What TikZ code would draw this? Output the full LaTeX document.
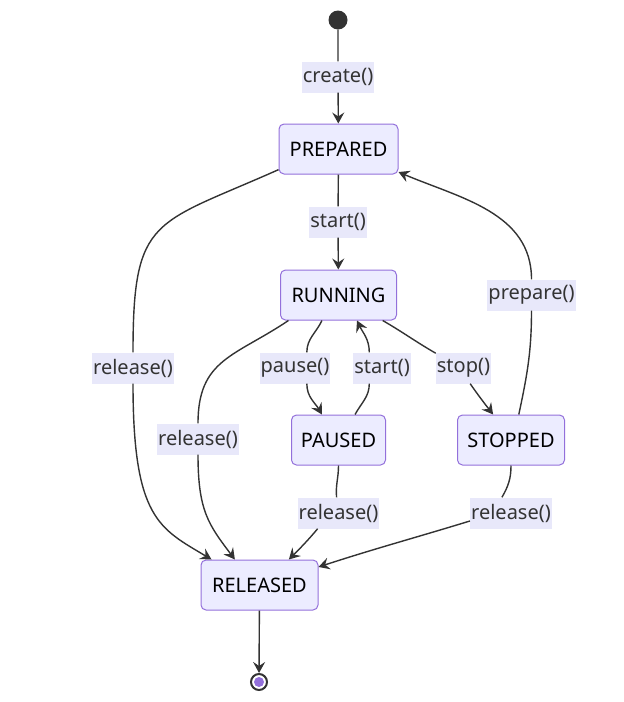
\documentclass[tikz,border=0pt]{standalone}
\usepackage{fontspec}
\setmainfont{Noto Sans}
\usepackage{xcolor}
\usetikzlibrary{arrows.meta, positioning}
\definecolor{statefill}{HTML}{ECECFF}
\definecolor{stateline}{HTML}{9370DB}
\definecolor{edgeline}{HTML}{333333}
\definecolor{tagfill}{HTML}{E8E8FA}
\tikzset{%
  state/.style={draw=stateline, fill=statefill, line width=1pt, rounded corners=5pt,
    minimum height=50pt, inner sep=0pt, text=black, font=\fontsize{20pt}{24pt}\selectfont},
  edge/.style={draw=edgeline, line width=1.4pt},
  move/.style={edge, -{Stealth[length=11pt, width=12pt, inset=4pt]}},
  lbl/.style={fill=tagfill, text=edgeline, minimum height=31pt, inner xsep=1pt, inner ysep=0pt,
    font=\fontsize{20pt}{24pt}\selectfont},
  startdot/.style={circle, fill=edgeline, minimum size=19pt, inner sep=0pt},
  enddot/.style={circle, draw=edgeline, line width=2pt, fill=white, minimum size=16pt, inner sep=0pt,
    path picture={\fill[stateline] (path picture bounding box.center) circle (5pt);}}
}
\begin{document}
\begin{tikzpicture}[x=1pt, y=-1pt]
  \useasboundingbox (0,0) rectangle (624,702);

  \node[startdot] (init) at (338,20) {};
  \node[state, minimum width=119pt] (prep) at (338.5,149) {PREPARED};
  \node[state, minimum width=116pt, below=95pt of prep] (run) {RUNNING};
  \node[state, minimum width=94pt, below=94pt of run] (paused) {PAUSED};
  \node[state, minimum width=107pt, right=71pt of paused] (stop) {STOPPED};
  \node[state, minimum width=117pt] (rel) at (259.5,585) {RELEASED};
  \node[enddot] (fin) at (259,682) {};

  \node[lbl] (lcreate) at (338,77) {create()};
  \node[lbl] (lstart) at (338,222) {start()};
  \node[lbl] (lrel1) at (133,368) {release()};
  \node[lbl] (lrel2) at (198,439) {release()};
  \node[lbl] (lpause) at (295,368) {pause()};
  \node[lbl] (lresume) at (382,368) {start()};
  \node[lbl] (lstop) at (463.5,368) {stop()};
  \node[lbl] (lprep) at (531.5,295) {prepare()};
  \node[lbl] (lrel3) at (338.5,513) {release()};
  \node[lbl] (lrel4) at (511,513) {release()};

  \draw[move] (init) -- (lcreate) -- (prep);
  \draw[move] (prep) -- (lstart) -- (run);
  \draw[move] (prep.199) to[out=204, in=90, looseness=1.5] (lrel1.north)
    (lrel1.south) to[out=-90, in=149, out looseness=1.8, in looseness=0.8] (rel.152);
  \draw[move] (run.207) to[out=214, in=90, looseness=1.2] (lrel2.north)
    (lrel2.south) to[out=-90, in=127, out looseness=1.3] (rel.134);
  \draw[move] (run.237) to[out=-115, in=90] (lpause.53) (lpause.-53) to[out=-90, in=120] (paused.123);
  \draw[move] (paused.57) to[out=62, in=-90] (lresume.231) (lresume.129) to[out=90, in=-65] (run.-54);
  \draw[move] (run.-30) to[out=-30, in=150] (lstop.152) (lstop.-67) to[out=-55, in=128] (stop.125);
  \draw[move] (stop.73) to[out=78, in=-90] (lprep.south) (lprep.north) to[out=90, in=-23] (prep.-21);
  \draw[move] (paused.south) to[out=-90, in=95] (lrel3.97) (lrel3.217) to[out=-130, in=45] (rel.41);
  \draw[move] (stop.south) to[out=-90, in=60] (lrel4.120) (lrel4.191) to[out=197, in=18] (rel.17);
  \draw[move] (rel) -- (fin);
\end{tikzpicture}
\end{document}
